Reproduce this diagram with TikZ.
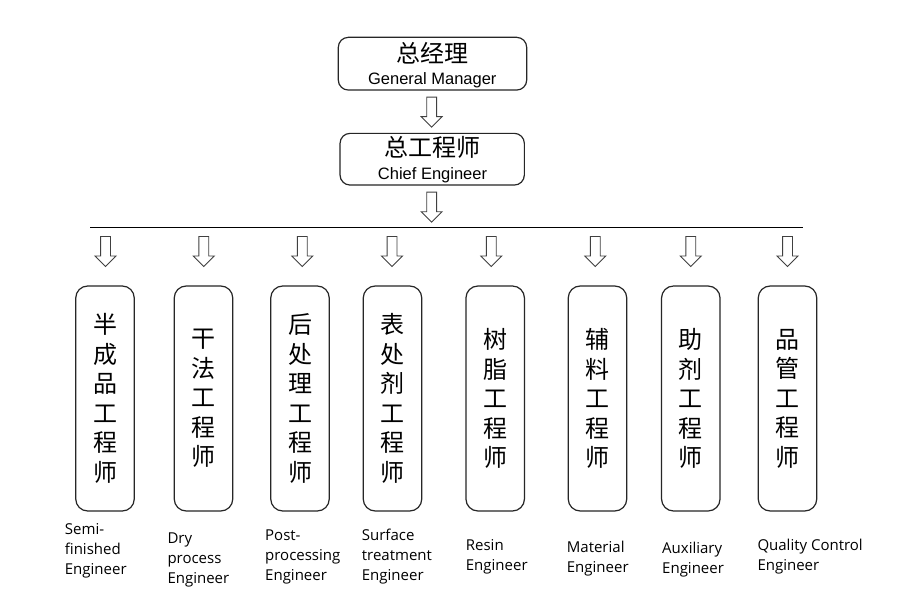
\documentclass[tikz,border=0pt]{standalone}
\usepackage{fontspec}
\setmainfont{Liberation Sans}
\newfontfamily\cjk{Noto Sans CJK SC}
\newfontfamily\labelfont{Open Sans}
\usetikzlibrary{shapes.arrows}
\tikzset{
  topbox/.style={draw=black!85, line width=1.2pt, rounded corners=10pt, inner sep=0pt},
  engbox/.style={draw=black!85, line width=1.2pt, rounded corners=12pt,
    minimum width=58.5pt, minimum height=225pt, inner sep=0pt, align=center,
    font=\cjk\fontsize{24}{29.5}\selectfont},
  hollowarrow/.style={single arrow, draw=black!75, line width=0.9pt,
    shape border rotate=270, inner sep=4.5pt, minimum height=30pt,
    single arrow head extend=5.5pt, anchor=tail},
  zhtitle/.style={font=\cjk\fontsize{24}{24}\selectfont, inner sep=0pt},
  entitle/.style={font=\fontsize{16.5}{18}\selectfont, inner sep=0pt, anchor=base},
  enlabel/.style={font=\labelfont\fontsize{15}{20}\selectfont, inner sep=0pt,
    anchor=north west, align=left},
}

\begin{document}
\begin{tikzpicture}[x=1pt,y=-1pt]
    \fill[white] (0,0) rectangle (922,610);
    \useasboundingbox (0,0) rectangle (922,610);

    % Top boxes
    \node[topbox, minimum width=188.4pt, minimum height=52.7pt] (gm) at (432.5,63.7) {};
    \node[zhtitle] (gmzh) at (432.5,53.3) {总经理};
    \node[entitle] (gmen) at (432.3,84.3) {General Manager};

    \node[topbox, minimum width=184.3pt, minimum height=51.7pt] (ce) at (432.2,159.2) {};
    \node[zhtitle] (cezh) at (432.5,147.8) {总工程师};
    \node[entitle] (ceen) at (432.5,179.3) {Chief Engineer};

    % Arrows
    \node[hollowarrow] (arrgm) at (431.7,96.7) {};
    \node[hollowarrow] (arrce) at (431.7,191.7) {};

    % Branch line
    \coordinate (hl) at (90,227.3);
    \coordinate (hr) at (803,227.3);
    \draw[line width=1pt] (hl) -- (hr);

    % Engineers
    \foreach \bx/\ax/\zh/\lx/\ly/\en [count=\i] in {
        105/105.5/{半\\成\\品\\工\\程\\师}/64.7/523.3/{Semi-\\finished\\Engineer},
        203.5/203.8/{干\\法\\工\\程\\师}/167.3/532.7/{Dry\\process\\Engineer},
        300/302.3/{后\\处\\理\\工\\程\\师}/265/529.3/{Post-\\processing\\Engineer},
        392.5/392/{表\\处\\剂\\工\\程\\师}/361.7/529.3/{Surface\\treatment\\Engineer},
        495.2/491.3/{树\\脂\\工\\程\\师}/465.7/539.3/{Resin\\Engineer},
        597.5/595.3/{辅\\料\\工\\程\\师}/566.7/540.7/{Material\\Engineer},
        690.8/690.8/{助\\剂\\工\\程\\师}/662/542/{Auxiliary\\Engineer},
        787.5/787.5/{品\\管\\工\\程\\师}/757.3/539.3/{Quality Control\\Engineer}}
    {
        \node[hollowarrow] (arr\i) at (\ax,236) {};
        \node[engbox] (eng\i) at (\bx,398.5) {\zh};
        \node[enlabel] (lab\i) at (\lx,\ly) {\en};
    }
\end{tikzpicture}
\end{document}
